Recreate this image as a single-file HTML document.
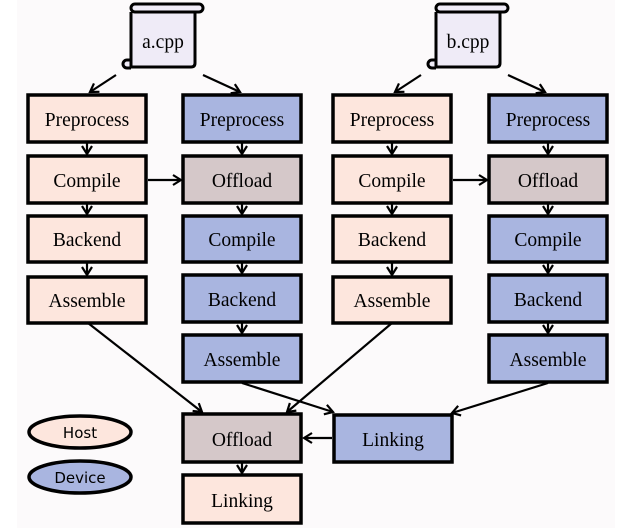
<!DOCTYPE html>
<html><head><meta charset="utf-8"><style>
html,body{margin:0;padding:0;background:#fff;}
svg{display:block;}
.t{font-family:"Liberation Serif","Times New Roman",serif;font-size:19.5px;fill:#000;text-anchor:middle;}
.s{font-family:"DejaVu Sans","Liberation Sans",sans-serif;font-size:15px;fill:#000;text-anchor:middle;}
.h{fill:#fde6dd;stroke:#000;stroke-width:3.5;}
.d{fill:#a9b5e0;stroke:#000;stroke-width:3.5;}
.o{fill:#d5c8c9;stroke:#000;stroke-width:3.5;}
.l{stroke:#000;stroke-width:2.2;fill:none;}
</style></head><body>
<svg width="632" height="531" viewBox="0 0 632 531">
<defs><marker id="a" markerWidth="12" markerHeight="12" refX="10" refY="6" orient="auto" markerUnits="userSpaceOnUse"><path d="M2,1 L10,6 L2,11" fill="none" stroke="#000" stroke-width="2.2"/></marker></defs>
<rect x="17" y="0" width="598" height="528" fill="#fcfafb"/>
<g id="sc">
<rect x="131" y="10" width="64" height="57" fill="#efebf7"/>
<rect x="131" y="4" width="72" height="8" rx="4" fill="#efebf7" stroke="#000" stroke-width="3"/>
<path d="M131,60 L127,60 A4,4 0 0 0 127,68 L131,68" fill="#efebf7" stroke="#000" stroke-width="3"/>
<path d="M131,12 L131,67 L191,67 Q195,67 195,63 L195,12" fill="none" stroke="#000" stroke-width="3"/>
</g>
<use href="#sc" x="305"/>
<text class="t" x="163" y="48">a.cpp</text>
<text class="t" x="468" y="48">b.cpp</text>
<line class="l" x1="116" y1="75" x2="90" y2="92" marker-end="url(#a)"/>
<line class="l" x1="203" y1="75" x2="240" y2="92" marker-end="url(#a)"/>
<line class="l" x1="421" y1="75" x2="395" y2="92" marker-end="url(#a)"/>
<line class="l" x1="508" y1="75" x2="545" y2="92" marker-end="url(#a)"/>
<g>
<rect class="h" x="28" y="95" width="118" height="47"/><text class="t" x="87" y="126">Preprocess</text>
<rect class="h" x="28" y="156" width="118" height="47"/><text class="t" x="87" y="187">Compile</text>
<rect class="h" x="28" y="216" width="118" height="46"/><text class="t" x="87" y="246">Backend</text>
<rect class="h" x="28" y="277" width="118" height="46"/><text class="t" x="87" y="307">Assemble</text>
<rect class="d" x="183" y="95" width="118" height="47"/><text class="t" x="242" y="126">Preprocess</text>
<rect class="o" x="183" y="156" width="118" height="47"/><text class="t" x="242" y="187">Offload</text>
<rect class="d" x="183" y="216" width="118" height="46"/><text class="t" x="242" y="246">Compile</text>
<rect class="d" x="183" y="275" width="118" height="47"/><text class="t" x="242" y="306">Backend</text>
<rect class="d" x="183" y="335" width="118" height="47"/><text class="t" x="242" y="366">Assemble</text>
</g>
<g>
<rect class="h" x="333" y="95" width="118" height="47"/><text class="t" x="392" y="126">Preprocess</text>
<rect class="h" x="333" y="156" width="118" height="47"/><text class="t" x="392" y="187">Compile</text>
<rect class="h" x="333" y="216" width="118" height="46"/><text class="t" x="392" y="246">Backend</text>
<rect class="h" x="333" y="277" width="118" height="46"/><text class="t" x="392" y="307">Assemble</text>
<rect class="d" x="489" y="95" width="118" height="47"/><text class="t" x="548" y="126">Preprocess</text>
<rect class="o" x="489" y="156" width="118" height="47"/><text class="t" x="548" y="187">Offload</text>
<rect class="d" x="489" y="216" width="118" height="46"/><text class="t" x="548" y="246">Compile</text>
<rect class="d" x="489" y="275" width="118" height="47"/><text class="t" x="548" y="306">Backend</text>
<rect class="d" x="489" y="335" width="118" height="47"/><text class="t" x="548" y="366">Assemble</text>
</g>
<line class="l" x1="87" y1="143" x2="87" y2="154" marker-end="url(#a)"/>
<line class="l" x1="87" y1="204" x2="87" y2="214" marker-end="url(#a)"/>
<line class="l" x1="87" y1="263" x2="87" y2="275" marker-end="url(#a)"/>
<line class="l" x1="242" y1="143" x2="242" y2="154" marker-end="url(#a)"/>
<line class="l" x1="242" y1="204" x2="242" y2="214" marker-end="url(#a)"/>
<line class="l" x1="242" y1="263" x2="242" y2="273" marker-end="url(#a)"/>
<line class="l" x1="242" y1="323" x2="242" y2="333" marker-end="url(#a)"/>
<line class="l" x1="392" y1="143" x2="392" y2="154" marker-end="url(#a)"/>
<line class="l" x1="392" y1="204" x2="392" y2="214" marker-end="url(#a)"/>
<line class="l" x1="392" y1="263" x2="392" y2="275" marker-end="url(#a)"/>
<line class="l" x1="548" y1="143" x2="548" y2="154" marker-end="url(#a)"/>
<line class="l" x1="548" y1="204" x2="548" y2="214" marker-end="url(#a)"/>
<line class="l" x1="548" y1="263" x2="548" y2="273" marker-end="url(#a)"/>
<line class="l" x1="548" y1="323" x2="548" y2="333" marker-end="url(#a)"/>
<line class="l" x1="148" y1="180" x2="181" y2="180" marker-end="url(#a)"/>
<line class="l" x1="453" y1="180" x2="487" y2="180" marker-end="url(#a)"/>
<line class="l" x1="88" y1="323" x2="202" y2="412" marker-end="url(#a)"/>
<line class="l" x1="392" y1="323" x2="287" y2="412" marker-end="url(#a)"/>
<line class="l" x1="242" y1="383" x2="333" y2="412" marker-end="url(#a)"/>
<line class="l" x1="548" y1="383" x2="452" y2="413" marker-end="url(#a)"/>
<line class="l" x1="332" y1="438" x2="304" y2="438" marker-end="url(#a)"/>
<line class="l" x1="242" y1="463" x2="242" y2="473" marker-end="url(#a)"/>
<rect class="o" x="183" y="414" width="118" height="48"/><text class="t" x="242" y="446">Offload</text>
<rect class="d" x="334" y="415" width="118" height="47"/><text class="t" x="393" y="446">Linking</text>
<rect class="h" x="183" y="475" width="118" height="48"/><text class="t" x="242" y="507">Linking</text>
<ellipse cx="80" cy="432" rx="51" ry="16" class="h"/><text class="s" x="80" y="438">Host</text>
<ellipse cx="80" cy="477" rx="51" ry="16" class="d"/><text class="s" x="80" y="483">Device</text>
</svg>
</body></html>
